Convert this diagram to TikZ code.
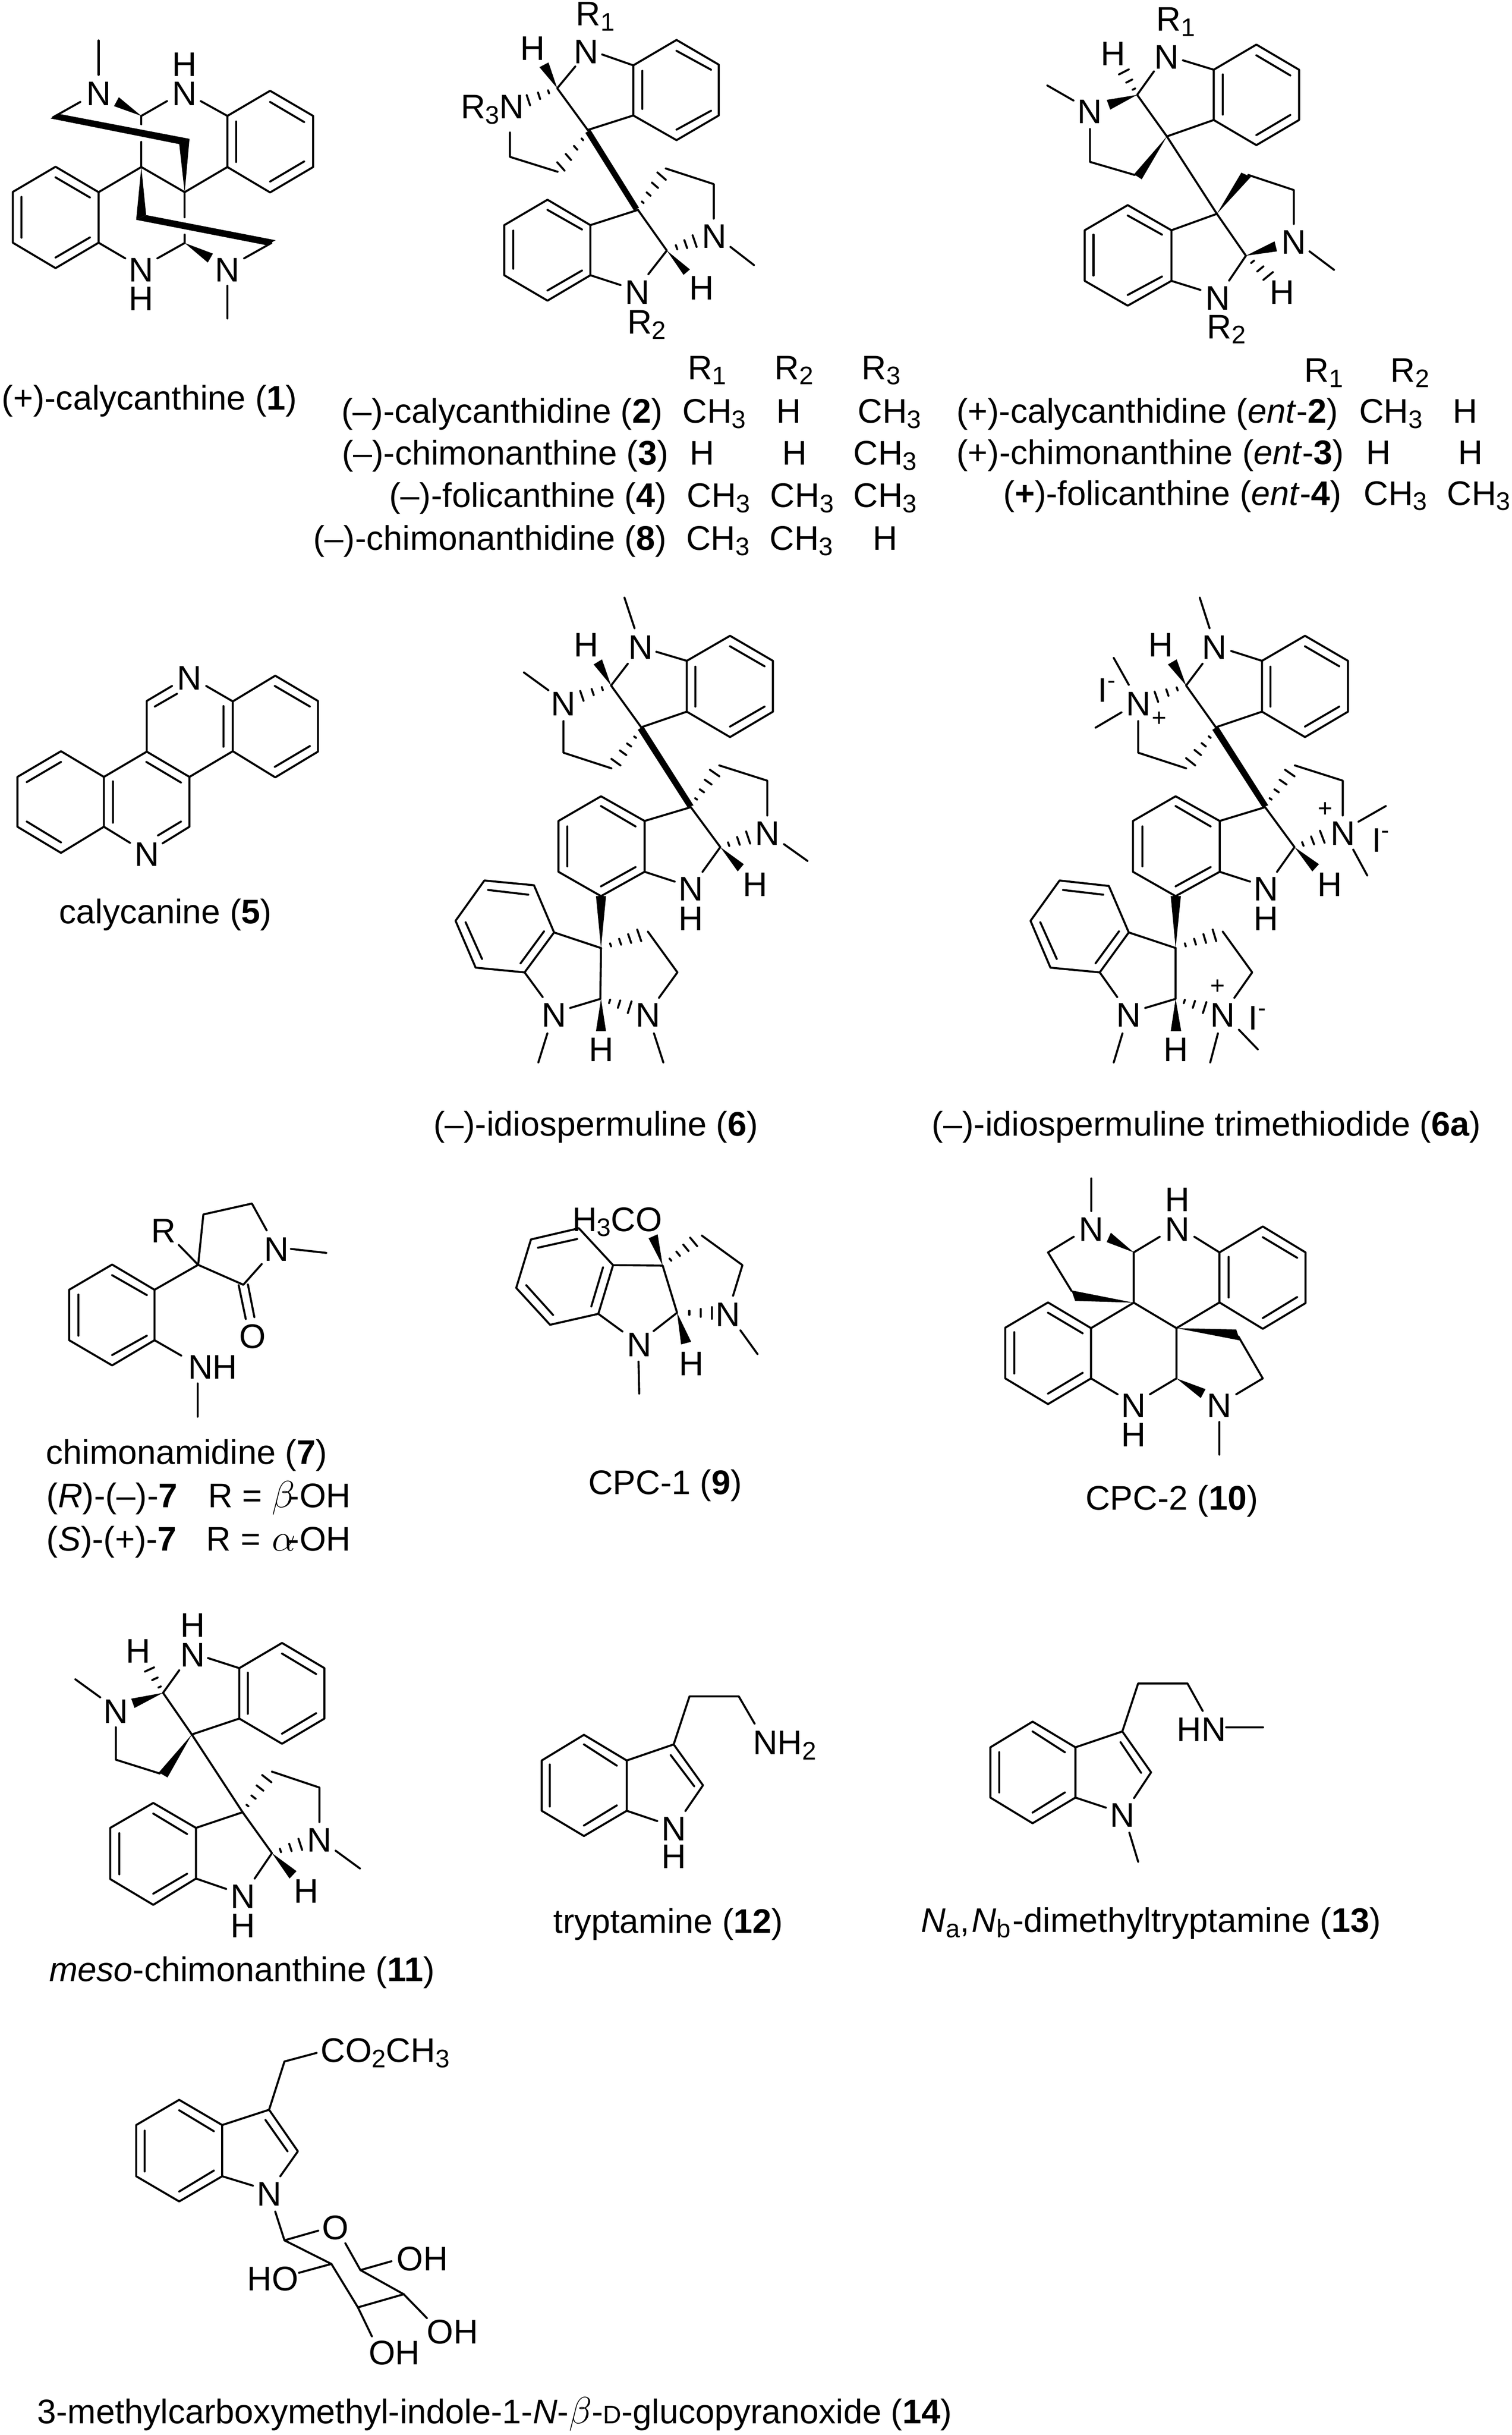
\documentclass[tikz,border=0pt]{standalone}
\usepackage{fontspec}
\setmainfont{Liberation Sans}
\usetikzlibrary{calc}
\newcounter{nn}
\tikzset{
  bond/.style={line width=0.92pt,line cap=round,line join=round},
  hashb/.style={line width=0.92pt,line cap=round},
  lab/.style={inner sep=0pt,outer sep=0pt,font=\fontsize{15.6}{18}\selectfont},
  zm/.style n args={4}{shift={(#1*0.2pt,-#2*0.2pt)},x=#3pt,y=-#4pt}
}
\newcommand\Lab[4][base]{\stepcounter{nn}\node[lab,anchor=#1] (t\arabic{nn}) at (#2,#3) {#4};}
\newcommand\sbs[1]{\raisebox{-2.4pt}{\fontsize{11.6}{12}\selectfont #1}}
\newcommand\spm{\raisebox{6.2pt}{\fontsize{11}{12}\selectfont -}}
\newcommand\pls{{\fontsize{11.5}{12}\selectfont +}}
\newcommand\grk[1]{{\fontsize{17.28}{18}\selectfont$#1$}}
\newcommand\Bd[1]{\draw[bond] #1;}
\newcommand\Wd[3]{\fill (#1) -- (#2) -- (#3) -- cycle;}
\newcommand\Hs[4]{\foreach \hh in {#4}{\draw[hashb] ($(#1)!\hh!(#2)$) -- ($(#1)!\hh!(#3)$);}}
\newcommand\Rr[3]{\Lab[base west]{#1}{#2}{R\sbs{#3}}}
\newcommand\Cc[2]{\Lab[base west]{#1}{#2}{CH\sbs{3}}}
\newcommand\Hh[2]{\Lab[base west]{#1}{#2}{H}}
\begin{document}
\begin{tikzpicture}
\useasboundingbox (0,0) rectangle (690.4pt,-1112pt);
\fill[white] (0,0) rectangle (690.4pt,-1112pt);

% ---- compound 1
\begin{scope}[zm={0}{0}{.14668}{.12755}]
\Bd{(307,145)--(307,268)}
\Lab{307}{378}{N}\Lab{575}{378}{N}\Lab{575}{272}{H}
\Bd{(250,365)--(165,420)}
\fill (157,424)--(185,408)--(590,497)--(558,516)--cycle;
\fill (575,690)--(590,497)--(558,515)--cycle;
\Wd{440,415}{370,348}{355,380}
\Bd{(440,415)--(520,362)}
\Bd{(440,415)--(440,445)}
\Bd{(440,508)--(440,600)}
\Bd{(625,362)--(708,415)}
\Bd{(708,415)--(841,325)--(975,415)--(975,598)--(841,689)--(708,598)--cycle}
\Bd{(735,435)--(735,580)}\Bd{(841,365)--(947,437)}\Bd{(947,578)--(841,650)}
\Bd{(708,598)--(575,688)--(440,598)--(307,688)}
\Bd{(307,688)--(173,597)--(40,687)--(40,869)--(173,960)--(307,869)--cycle}
\Bd{(173,635)--(280,707)}\Bd{(67,705)--(67,851)}\Bd{(173,922)--(280,850)}
\fill (440,598)--(455,770)--(424,787)--cycle;
\fill (424,787)--(455,770)--(858,860)--(830,878)--cycle;
\Bd{(575,688)--(575,778)}
\Bd{(575,840)--(575,870)--(490,925)}
\Bd{(307,869)--(390,925)}
\Lab{440}{1008}{N}\Lab{440}{1112}{H}
\Wd{575,870}{663,908}{647,940}
\Lab{708}{1008}{N}
\Bd{(760,925)--(845,870)}
\Bd{(708,1023)--(708,1140)}
\Lab[base west]{6}{1468}{(+)-calycanthine (\textbf{1})}
\end{scope}

% ---- compound 2
\begin{scope}[zm={1000}{0}{.15306}{.16582}]
\Rr{412}{70}{1}\Lab{443}{175}{N}\Lab{283}{165}{H}
\Bd{(490,150)--(583,180)}
\Bd{(410,183)--(356,243)--(447,358)}
\Wd{356,243}{303,185}{330,172}
\Hs{356,243}{265,262}{275,290}{.3,.63,1}
\Lab[base west]{68}{327}{R\sbs{3}N}
\Bd{(583,180)--(712,110)--(838,178)--(838,318)--(712,386)--(583,318)--cycle}
\Bd{(610,195)--(610,300)}\Bd{(712,140)--(815,192)}\Bd{(815,305)--(712,357)}
\Bd{(583,318)--(447,358)}
\fill (440,366)--(455,357)--(600,572)--(585,580)--cycle;
\Hs{447,365}{356,447}{378,470}{.2,.45,.72,1}
\Bd{(215,365)--(215,432)--(357,473)}
\Bd{(597,578)--(683,690)--(628,755)}
\Hs{597,575}{655,475}{680,495}{.2,.45,.72,1}
\Bd{(680,464)--(823,507)--(823,602)}
\Lab{825}{683}{N}
\Bd{(873,680)--(943,730)}
\Hs{683,690}{760,648}{772,680}{.35,.68,1}
\Wd{683,690}{752,742}{733,757}
\Lab{787}{825}{H}\Lab{595}{838}{N}\Rr{565}{920}{2}
\Bd{(545,785)--(455,758)}
\Bd{(455,758)--(327,828)--(198,758)--(198,620)--(327,550)--(455,620)--cycle}
\Bd{(430,745)--(327,800)}\Bd{(225,740)--(225,635)}\Bd{(327,578)--(430,632)}
\Bd{(455,620)--(597,578)}
\Rr{745}{1045}{1}\Rr{1005}{1045}{2}\Rr{1265}{1045}{3}
\Lab[base east]{670}{1165}{(–)-calycanthidine (\textbf{2})}
\Cc{730}{1165}\Hh{1010}{1165}\Cc{1253}{1165}
\Lab[base east]{688}{1280}{(–)-chimonanthine (\textbf{3})}
\Hh{752}{1280}\Hh{1027}{1280}\Cc{1240}{1280}
\Lab[base east]{682}{1397}{(–)-folicanthine (\textbf{4})}
\Cc{743}{1397}\Cc{992}{1397}\Cc{1240}{1397}
\Lab[base east]{682}{1515}{(–)-chimonanthidine (\textbf{8})}
\Cc{741}{1515}\Cc{990}{1515}\Hh{1298}{1515}
\end{scope}

% ---- ent series
\begin{scope}[zm={2200}{0}{.15969}{.15306}]
\Rr{552}{92}{1}\Lab{582}{205}{N}\Lab{428}{195}{H}
\Bd{(628,180)--(716,208)}
\Bd{(545,213)--(497,283)--(582,407)}
\Hs{497,283}{445,222}{473,207}{.25,.6,1}
\Wd{497,283}{410,298}{420,327}
\Lab{362}{368}{N}
\Bd{(315,300)--(240,255)}
\Bd{(362,385)--(362,483)--(490,522)}
\Wd{582,407}{488,520}{510,535}
\Bd{(716,208)--(838,133)--(960,208)--(960,358)--(838,433)--(716,358)--cycle}
\Bd{(742,222)--(742,342)}\Bd{(838,165)--(935,225)}\Bd{(935,343)--(838,403)}
\Bd{(716,358)--(582,407)--(725,638)--(595,687)}
\Bd{(595,687)--(470,612)--(347,687)--(347,838)--(470,912)--(595,838)--cycle}
\Bd{(470,643)--(568,700)}\Bd{(372,700)--(372,822)}\Bd{(470,880)--(568,825)}
\Bd{(595,838)--(678,865)}
\Lab{727}{925}{N}\Rr{697}{1010}{2}
\Bd{(725,638)--(808,763)--(760,837)}
\Wd{725,638}{795,515}{822,528}
\Bd{(815,522)--(945,567)--(945,668)}
\Lab{945}{757}{N}
\Bd{(990,750)--(1060,805)}
\Wd{808,763}{890,720}{897,750}
\Hs{808,763}{885,812}{858,835}{.3,.65,1}
\Lab{912}{908}{H}
\Rr{975}{1140}{1}\Rr{1222}{1140}{2}
\Lab[base east]{1072}{1262}{(+)-calycanthidine (\textit{ent}-\textbf{2})}
\Cc{1132}{1262}\Hh{1400}{1262}
\Lab[base east]{1089}{1385}{(+)-chimonanthine (\textit{ent}-\textbf{3})}
\Hh{1152}{1385}\Hh{1415}{1385}
\Lab[base east]{1082}{1507}{(\textbf{+})-folicanthine (\textit{ent}-\textbf{4})}
\Cc{1145}{1507}\Cc{1383}{1507}
\end{scope}

% ---- compound 5
\begin{scope}[zm={0}{1450}{.10204}{.10204}]
\Bd{(465,635)--(273,520)--(78,635)--(78,858)--(273,975)--(465,858)--cycle}
\Bd{(273,568)--(120,658)}\Bd{(120,835)--(273,928)}\Bd{(505,655)--(505,840)}
\Bd{(465,635)--(657,522)--(848,635)--(848,858)--(728,932)}
\Bd{(465,858)--(582,930)}
\Bd{(655,568)--(810,660)}\Bd{(810,835)--(707,897)}
\Bd{(657,522)--(657,295)--(770,228)}\Bd{(693,320)--(792,263)}
\Lab{657}{1035}{N}\Lab{848}{245}{N}
\Bd{(923,228)--(1042,297)--(1042,520)--(848,635)}
\Bd{(1000,318)--(1000,500)}
\Bd{(1042,297)--(1232,182)--(1423,295)--(1423,522)--(1232,637)--(1042,520)}
\Bd{(1230,228)--(1387,320)}\Bd{(1387,497)--(1230,590)}
\Lab[base west]{265}{1292}{calycanine (\textbf{5})}
\end{scope}

% ---- compound 6
\begin{scope}[zm={950}{1300}{.15306}{.16582}]
\Bd{(622,78)--(652,162)}
\Lab{670}{248}{N}\Lab{508}{240}{H}
\Bd{(717,227)--(808,252)}
\Bd{(632,260)--(582,320)--(672,435)}
\Wd{582,320}{530,262}{555,248}
\Hs{582,320}{490,335}{500,362}{.3,.63,1}
\Lab{440}{403}{N}
\Bd{(395,333)--(322,284)}
\Bd{(808,252)--(937,183)--(1065,252)--(1065,392)--(937,462)--(808,392)--cycle}
\Bd{(833,268)--(833,378)}\Bd{(937,212)--(1040,267)}\Bd{(1040,378)--(937,433)}
\Bd{(808,392)--(672,435)}
\fill (662,442)--(678,432)--(828,650)--(810,655)--cycle;
\Bd{(440,418)--(440,505)--(583,548)}
\Hs{668,445}{583,522}{610,540}{.2,.45,.7,1}
\Bd{(820,655)--(908,765)--(855,833)}
\Hs{822,650}{877,552}{905,570}{.2,.45,.72,1}
\Bd{(905,540)--(1048,582)--(1048,678)}
\Lab{1048}{760}{N}
\Bd{(1098,757)--(1168,803)}
\Hs{908,765}{985,722}{997,755}{.3,.65,1}
\Wd{908,765}{978,812}{960,832}
\Lab{1012}{900}{H}\Lab{820}{913}{N}\Lab{820}{995}{H}
\Bd{(772,860)--(682,833)}
\Bd{(682,693)--(552,625)--(425,693)--(425,833)--(552,900)--(682,833)--cycle}
\Bd{(552,652)--(655,708)}\Bd{(452,708)--(452,818)}\Bd{(552,873)--(655,820)}
\Bd{(682,693)--(820,655)}
\Wd{552,1043}{537,900}{567,900}
\Bd{(552,1043)--(412,1000)}
\Bd{(412,1000)--(352,870)--(204,857)--(118,968)--(178,1097)--(324,1110)--cycle}
\Bd{(335,896)--(215,883)}\Bd{(148,972)--(197,1073)}\Bd{(312,1085)--(382,997)}
\Bd{(324,1110)--(378,1178)}
\Lab{412}{1260}{N}
\Bd{(392,1278)--(365,1358)}
\Bd{(552,1043)--(550,1183)--(460,1208)}
\Wd{552,1183}{537,1272}{567,1272}
\Lab{553}{1355}{H}
\Hs{552,1043}{660,992}{672,1024}{.25,.5,.75,1}
\Bd{(692,998)--(780,1110)--(725,1180)}
\Lab{693}{1260}{N}
\Bd{(710,1278)--(738,1358)}
\Hs{552,1183}{643,1190}{632,1222}{.3,.63,1}
\Lab[base west]{52}{1560}{(–)-idiospermuline (\textbf{6})}
\end{scope}

% ---- compound 6a
\begin{scope}[zm={2200}{1300}{.15969}{.16582}]
\Bd{(676,78)--(704,162)}
\Lab{718}{248}{N}\Lab{565}{240}{H}
\Bd{(766,225)--(854,252)}
\Bd{(684,260)--(637,320)--(722,435)}
\Wd{637,320}{585,262}{610,248}
\Hs{637,320}{547,337}{557,365}{.3,.63,1}
\Lab{500}{403}{N}
\Lab[base west]{385}{365}{I\spm}
\Lab{560}{432}{\pls}
\Bd{(430,244)--(473,318)}\Bd{(452,394)--(378,436)}
\Bd{(854,252)--(977,183)--(1100,252)--(1100,392)--(977,462)--(854,392)--cycle}
\Bd{(878,268)--(878,378)}\Bd{(977,212)--(1075,267)}\Bd{(1075,378)--(977,433)}
\Bd{(854,392)--(722,435)}
\fill (712,442)--(728,432)--(872,650)--(855,655)--cycle;
\Bd{(500,418)--(500,505)--(637,548)}
\Hs{718,445}{637,520}{663,540}{.2,.45,.7,1}
\Bd{(863,655)--(947,765)--(897,833)}
\Hs{865,650}{920,552}{947,570}{.2,.45,.72,1}
\Bd{(948,540)--(1085,582)--(1085,678)}
\Lab{1085}{760}{N}\Lab{1035}{682}{\pls}
\Bd{(1130,695)--(1208,652)}\Bd{(1115,772)--(1155,843)}
\Lab[base west]{1168}{778}{I\spm}
\Hs{947,765}{1020,720}{1033,753}{.3,.65,1}
\Wd{947,765}{1017,812}{998,832}
\Lab{1048}{900}{H}\Lab{865}{913}{N}\Lab{865}{995}{H}
\Bd{(820,860)--(733,833)}
\Bd{(733,693)--(607,625)--(485,693)--(485,833)--(607,900)--(733,833)--cycle}
\Bd{(607,652)--(707,708)}\Bd{(512,708)--(512,818)}\Bd{(607,873)--(707,820)}
\Bd{(733,693)--(863,655)}
\Wd{607,1043}{593,900}{622,900}
\Bd{(607,1043)--(473,1000)}
\Bd{(473,1000)--(416,872)--(275,857)--(192,968)--(249,1097)--(390,1110)--cycle}
\Bd{(400,896)--(285,883)}\Bd{(220,972)--(267,1073)}\Bd{(378,1085)--(445,997)}
\Bd{(390,1110)--(440,1178)}
\Lab{473}{1260}{N}
\Bd{(455,1278)--(430,1358)}
\Bd{(607,1043)--(607,1183)--(520,1208)}
\Wd{607,1183}{593,1272}{623,1272}
\Lab{608}{1355}{H}
\Hs{607,1043}{713,992}{723,1024}{.25,.5,.75,1}
\Bd{(742,998)--(826,1110)--(775,1180)}
\Lab{727}{1170}{\pls}\Lab{742}{1260}{N}
\Lab[base west]{815}{1268}{I\spm}
\Bd{(728,1278)--(706,1358)}\Bd{(788,1268)--(842,1322)}
\Hs{607,1183}{695,1192}{685,1222}{.3,.63,1}
\Lab[base east]{1480}{1560}{(–)-idiospermuline trimethiodide (\textbf{6a})}
\end{scope}

% ---- compound 7
\begin{scope}[zm={0}{2650}{.14031}{.12117}]
\Bd{(503,487)--(365,392)--(225,487)--(225,677)--(365,772)--(503,677)--cycle}
\Bd{(365,432)--(478,507)}\Bd{(255,505)--(255,660)}\Bd{(365,733)--(478,660)}
\Bd{(503,487)--(645,393)--(582,318)}
\Lab{532}{310}{R}
\Bd{(645,393)--(662,203)--(820,162)--(868,263)}
\Lab{900}{378}{N}
\Bd{(947,333)--(1062,348)}
\Bd{(852,390)--(792,468)--(645,393)}
\Bd{(777,470)--(800,597)}\Bd{(807,467)--(828,590)}
\Lab{823}{707}{O}
\Bd{(503,677)--(590,735)}
\Lab[base west]{612}{823}{NH}
\Bd{(643,840)--(643,965)}
\Lab[base west]{150}{1145}{chimonamidine (\textbf{7})}
\Lab[base west]{152}{1308}{(\textit{R})-(–)-\textbf{7}}
\Lab[base west]{678}{1308}{R =}
\Lab[base west]{885}{1308}{\grk{\beta}}
\Lab[base east]{1142}{1308}{-OH}
\Lab[base west]{152}{1470}{(\textit{S})-(+)-\textbf{7}}
\Lab[base west]{672}{1470}{R =}
\Lab[base west]{885}{1470}{\grk{\alpha}}
\Lab[base east]{1142}{1470}{-OH}
\end{scope}

% ---- compound 9
\begin{scope}[zm={1100}{2700}{.15306}{.10204}]
\Lab[base west]{270}{218}{H\sbs{3}CO}
\Bd{(290,205)--(147,255)--(103,472)--(204,637)--(348,588)--(392,370)--cycle}
\Bd{(285,253)--(168,292)}\Bd{(133,460)--(213,593)}\Bd{(327,555)--(362,380)}
\Bd{(392,370)--(540,372)--(583,583)--(513,665)}
\Wd{540,372}{498,250}{525,232}
\Hs{540,372}{622,247}{643,285}{.25,.5,.75,1}
\Bd{(657,238)--(778,370)--(750,507)}
\Lab{735}{645}{N}
\Bd{(772,662)--(823,768)}
\Hs{583,583}{687,558}{687,610}{.35,.68,1}
\Wd{583,583}{595,725}{625,713}
\Lab{625}{863}{H}\Lab{470}{780}{N}
\Bd{(348,588)--(420,667)}
\Bd{(468,802)--(470,945)}
\Lab[base west]{318}{1395}{CPC-1 (\textbf{9})}
\end{scope}

% ---- compound 10
\begin{scope}[zm={2200}{2700}{.12755}{.10204}]
\Bd{(458,-18)--(458,128)}
\Lab{458}{262}{N}\Lab{766}{262}{N}\Lab{766}{130}{H}
\Bd{(395,243)--(303,313)--(387,485)}
\Wd{610,538}{387,483}{400,530}
\Wd{610,313}{528,225}{513,267}
\Bd{(610,538)--(610,313)--(703,243)}
\Bd{(827,243)--(917,313)}
\Bd{(917,313)--(1072,197)--(1225,313)--(1225,540)--(1072,655)--(917,537)--cycle}
\Bd{(1072,245)--(1195,337)}\Bd{(950,333)--(950,515)}\Bd{(1195,513)--(1072,607)}
\Bd{(917,537)--(763,652)--(610,538)--(457,652)}
\Bd{(457,652)--(303,537)--(150,650)--(150,877)--(303,992)--(457,877)--cycle}
\Bd{(303,583)--(427,675)}\Bd{(182,670)--(182,855)}\Bd{(303,945)--(427,852)}
\Bd{(763,652)--(763,877)--(668,948)}
\Wd{763,652}{977,658}{990,707}
\Bd{(985,690)--(1072,877)--(977,948)}
\Wd{763,877}{867,925}{850,965}
\Bd{(457,877)--(552,948)}
\Lab{610}{1052}{N}\Lab{610}{1182}{H}\Lab{917}{1052}{N}
\Bd{(917,1072)--(917,1218)}
\Lab[base west]{437}{1465}{CPC-2 (\textbf{10})}
\end{scope}

% ---- compound 11
\begin{scope}[zm={100}{3600}{.12755}{.12117}]
\Lab{533}{228}{H}\Lab{533}{340}{N}\Lab{338}{325}{H}\Lab{258}{552}{N}
\Bd{(588,307)--(700,345)}
\Bd{(485,353)--(427,438)--(530,595)}
\Hs{427,438}{362,358}{395,342}{.25,.6,1}
\Wd{427,438}{313,460}{325,495}
\Bd{(202,455)--(113,387)}
\Bd{(258,568)--(258,690)--(415,742)}
\Wd{530,595}{412,738}{443,757}
\Bd{(700,345)--(853,250)--(1005,345)--(1005,535)--(853,630)--(700,535)--cycle}
\Bd{(730,362)--(730,517)}\Bd{(853,290)--(975,367)}\Bd{(975,515)--(853,592)}
\Bd{(700,535)--(530,595)--(712,888)--(545,947)}
\Bd{(545,947)--(392,853)--(238,947)--(238,1140)--(392,1237)--(545,1138)--cycle}
\Bd{(392,893)--(513,970)}\Bd{(270,967)--(270,1122)}\Bd{(392,1195)--(513,1120)}
\Bd{(545,1138)--(653,1177)}
\Bd{(712,888)--(817,1042)--(755,1138)}
\Lab{713}{1250}{N}\Lab{713}{1360}{H}
\Hs{712,888}{782,748}{815,775}{.2,.45,.72,1}
\Bd{(817,735)--(987,795)--(987,925)}
\Lab{987}{1037}{N}
\Bd{(1045,1033)--(1132,1100)}
\Hs{817,1042}{912,988}{925,1030}{.3,.65,1}
\Wd{817,1042}{905,1110}{880,1138}
\Lab{940}{1230}{H}
\Lab[base west]{20}{1525}{\textit{meso}-chimonanthine (\textbf{11})}
\end{scope}

% ---- compounds 12, 13
\begin{scope}[zm={1150}{3700}{.26786}{.10204}]
\Bd{(210,627)--(137,512)--(65,627)--(65,852)--(137,965)--(210,852)--cycle}
\Bd{(137,555)--(193,650)}\Bd{(79,645)--(79,833)}\Bd{(137,918)--(193,828)}
\Bd{(210,627)--(290,555)--(340,738)--(310,853)}
\Bd{(285,603)--(325,742)}
\Bd{(210,852)--(262,898)}
\Lab{290}{985}{N}\Lab{290}{1110}{H}
\Bd{(290,555)--(317,340)--(401,340)--(428,462)}
\Lab[base west]{425}{600}{NH\sbs{2}}
\Lab[base west]{85}{1400}{tryptamine (\textbf{12})}
\Bd{(975,568)--(902,453)--(830,568)--(830,793)--(902,908)--(975,793)--cycle}
\Bd{(902,497)--(957,590)}\Bd{(845,590)--(845,770)}\Bd{(902,860)--(957,770)}
\Bd{(975,568)--(1055,497)--(1104,680)--(1075,795)}
\Bd{(1052,545)--(1087,682)}
\Bd{(975,793)--(1027,838)}
\Lab{1055}{925}{N}
\Bd{(1067,950)--(1082,1080)}
\Bd{(1055,497)--(1082,282)--(1166,282)--(1192,405)}
\Lab[base west]{1148}{540}{HN}
\Bd{(1232,478)--(1295,478)}
\Lab[base west]{712}{1395}{\textit{N}\sbs{a},\hspace{1pt}\textit{N}\sbs{b}\hspace{1pt}-dimethyltryptamine (\textbf{13})}
\end{scope}

% ---- compound 14
\begin{scope}[zm={200}{4600}{.12755}{.12245}]
\Lab[base west]{835}{178}{CO\sbs{2}CH\sbs{3}}
\Bd{(820,143)--(705,175)--(650,355)}
\Bd{(482,412)--(328,318)--(174,412)--(174,603)--(328,697)--(482,603)--cycle}
\Bd{(328,357)--(452,435)}\Bd{(205,433)--(205,585)}\Bd{(328,660)--(452,582)}
\Bd{(482,412)--(650,355)--(753,510)--(690,603)}
\Bd{(637,393)--(716,510)}
\Bd{(482,603)--(592,638)}
\Lab{650}{713}{N}
\Bd{(672,735)--(705,842)--(826,806)}
\Lab{887}{838}{O}
\Bd{(705,842)--(873,930)}
\Bd{(923,853)--(977,953)--(1088,920)}
\Lab[base west]{1107}{955}{OH}
\Bd{(977,953)--(1132,1043)}
\Bd{(873,930)--(757,963)}
\Lab[base west]{572}{1030}{HO}
\Bd{(873,930)--(968,1092)--(1018,1200)}
\Bd{(968,1092)--(1132,1043)--(1215,1132)}
\Lab[base west]{1215}{1228}{OH}
\Lab[base west]{1007}{1305}{OH}
\Lab[base west]{-180}{1525}{3-methylcarboxymethyl-indole-1-\textit{N}-\grk{\beta}-{\fontsize{11.6}{12}\selectfont D}-glucopyranoxide (\textbf{14})}
\end{scope}
\end{tikzpicture}
\end{document}
